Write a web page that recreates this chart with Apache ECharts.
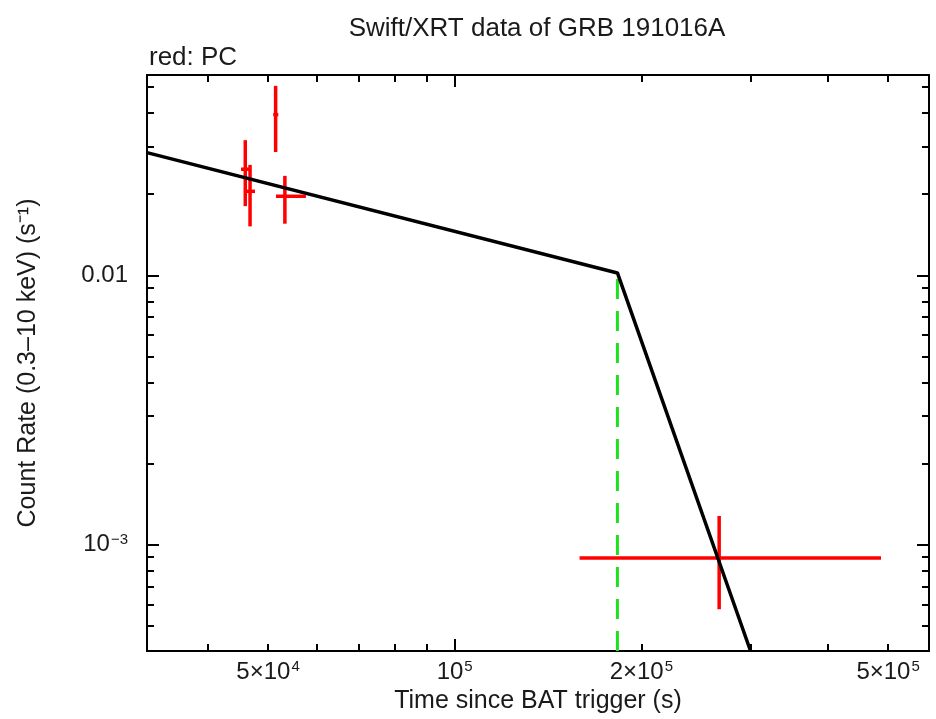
<!DOCTYPE html>
<html>
<head>
<meta charset="utf-8">
<title>Swift/XRT data of GRB 191016A</title>
<script src="https://cdn.jsdelivr.net/npm/echarts@6/dist/echarts.min.js"></script>
<style>
html, body { margin: 0; padding: 0; background: #fff; }
#main { width: 936px; height: 719px; }
</style>
</head>
<body>
<div id="main"></div>
<script>
// PC mode data: time (s) with its range, count rate (s^-1) with its range
var pcTime   = [45950, 46770, 51430, 53230, 267000];
var pcTimeLo = [45230, 46200, 50980, 51490, 159000];
var pcTimeHi = [46770, 47640, 51940, 57560, 487000];
var pcRate   = [0.02473, 0.02048, 0.03941, 0.01963, 0.000893];
var pcRateLo = [0.01804, 0.01518, 0.02864, 0.01553, 0.000577];
var pcRateHi = [0.0317, 0.02566, 0.0504, 0.02337, 0.00128];

// broken power-law fit, read at the axis edges and at the break
var fitTime = [31900, 183000, 300000];
var fitRate = [0.0285, 0.0102, 0.000404];
var breakTime = 183000;

var xRange = [31900, 582000];
var yRange = [0.000404, 0.0553];

var xLabelTicks = [50000, 100000, 200000, 500000];
var xMajorTicks = [100000];
var xMinorTicks = [40000, 50000, 60000, 70000, 80000, 90000, 200000, 300000, 400000, 500000];
var yLabelTicks = [0.001, 0.01];
var yMajorTicks = [0.001, 0.01];
var yMinorTicks = [0.0005, 0.0006, 0.0007, 0.0008, 0.0009,
                   0.002, 0.003, 0.004, 0.005, 0.006, 0.007, 0.008, 0.009,
                   0.02, 0.03, 0.04, 0.05];

var font = 'Liberation Sans, Arial, Helvetica, sans-serif';
var textColor = '#1a1a1a';

var rich = {
    b: { fontSize: 24, fontFamily: font, color: textColor, lineHeight: 26 },
    s: { fontSize: 15, fontFamily: font, color: textColor, verticalAlign: 'top', padding: [0, 0, 0, 1] }
};

function powLabel(v) {
    var e = Math.floor(Math.log10(v) + 1e-9);
    var m = Math.round(v / Math.pow(10, e));
    if (v === 0.01) return '{b|0.01}';
    var exp = e < 0 ? '\u2212' + (-e) : '' + e;
    return m === 1 ? '{b|10}{s|' + exp + '}' : '{b|' + m + '\u00d710}{s|' + exp + '}';
}

var errRows = pcTime.map(function (t, i) {
    return [t, pcTimeLo[i], pcTimeHi[i], pcRate[i], pcRateLo[i], pcRateHi[i]];
});

function xAx(pos, ticks, len, withLabels) {
    return {
        type: 'log', position: pos, min: xRange[0], max: xRange[1],
        axisLine: { show: true, onZero: false, lineStyle: { color: '#000', width: 2 } },
        axisTick: { show: true, inside: true, length: len, customValues: ticks, lineStyle: { color: '#000', width: 2 } },
        axisLabel: withLabels ? { show: true, customValues: xLabelTicks, margin: 8, formatter: powLabel, rich: rich } : { show: false },
        splitLine: { show: false },
        minorTick: { show: false }
    };
}

function yAx(pos, ticks, len, withLabels) {
    return {
        type: 'log', position: pos, min: yRange[0], max: yRange[1],
        axisLine: { show: true, onZero: false, lineStyle: { color: '#000', width: 2 } },
        axisTick: { show: true, inside: true, length: len, customValues: ticks, lineStyle: { color: '#000', width: 2 } },
        axisLabel: withLabels ? { show: true, customValues: yLabelTicks, margin: 19, formatter: powLabel, rich: rich } : { show: false },
        splitLine: { show: false },
        minorTick: { show: false }
    };
}

var xMain = xAx('bottom', xMajorTicks, 12, true);
xMain.name = 'Time since BAT trigger (s)';
xMain.nameLocation = 'middle';
xMain.nameGap = 38;
xMain.nameTextStyle = { fontSize: 25, fontFamily: font, color: textColor };

var yMain = yAx('left', yMajorTicks, 12, true);
yMain.name = 'Count Rate (0.3\u201310 keV) (s\u207b\u00b9)';
yMain.nameLocation = 'middle';
yMain.nameGap = 106;
yMain.nameTextStyle = { fontSize: 25, fontFamily: font, color: textColor };

var myChart = echarts.init(document.getElementById('main'));

myChart.setOption({
    animation: false,
    backgroundColor: '#fff',
    title: [{
        text: 'Swift/XRT data of GRB 191016A',
        left: 532, top: 11, textAlign: 'center',
        textStyle: { fontSize: 26, fontWeight: 'normal', fontFamily: font, color: textColor }
    }, {
        text: 'red: PC',
        left: 144, top: 40,
        textStyle: { fontSize: 26, fontWeight: 'normal', fontFamily: font, color: textColor }
    }],
    grid: { left: 147, right: 7, top: 75, bottom: 62, containLabel: false },
    xAxis: [
        xMain,
        xAx('bottom', xMinorTicks, 7, false),
        xAx('top', xMajorTicks, 12, false),
        xAx('top', xMinorTicks, 7, false)
    ],
    yAxis: [
        yMain,
        yAx('left', yMinorTicks, 7, false),
        yAx('right', yMajorTicks, 12, false),
        yAx('right', yMinorTicks, 7, false)
    ],
    series: [{
        name: 'break',
        type: 'line',
        z: 2,
        symbol: 'none',
        lineStyle: { color: '#1ee01e', width: 3, type: [20, 12] },
        data: [[breakTime, yRange[0]], [breakTime, fitRate[1]]]
    }, {
        name: 'PC',
        type: 'custom',
        z: 3,
        encode: { x: [0, 1, 2], y: [3, 4, 5] },
        renderItem: function (params, api) {
            var c = api.coord([api.value(0), api.value(3)]);
            var xl = api.coord([api.value(1), api.value(3)]);
            var xh = api.coord([api.value(2), api.value(3)]);
            var yl = api.coord([api.value(0), api.value(4)]);
            var yh = api.coord([api.value(0), api.value(5)]);
            var st = { stroke: '#ff0000', lineWidth: 3.5 };
            return {
                type: 'group',
                children: [
                    { type: 'line', shape: { x1: xl[0], y1: c[1], x2: xh[0], y2: c[1] }, style: st },
                    { type: 'line', shape: { x1: c[0], y1: yl[1], x2: c[0], y2: yh[1] }, style: st }
                ]
            };
        },
        data: errRows
    }, {
        name: 'fit',
        type: 'line',
        z: 4,
        symbol: 'none',
        lineStyle: { color: '#000', width: 3.5 },
        data: fitTime.map(function (t, i) { return [t, fitRate[i]]; })
    }]
});
</script>
</body>
</html>
